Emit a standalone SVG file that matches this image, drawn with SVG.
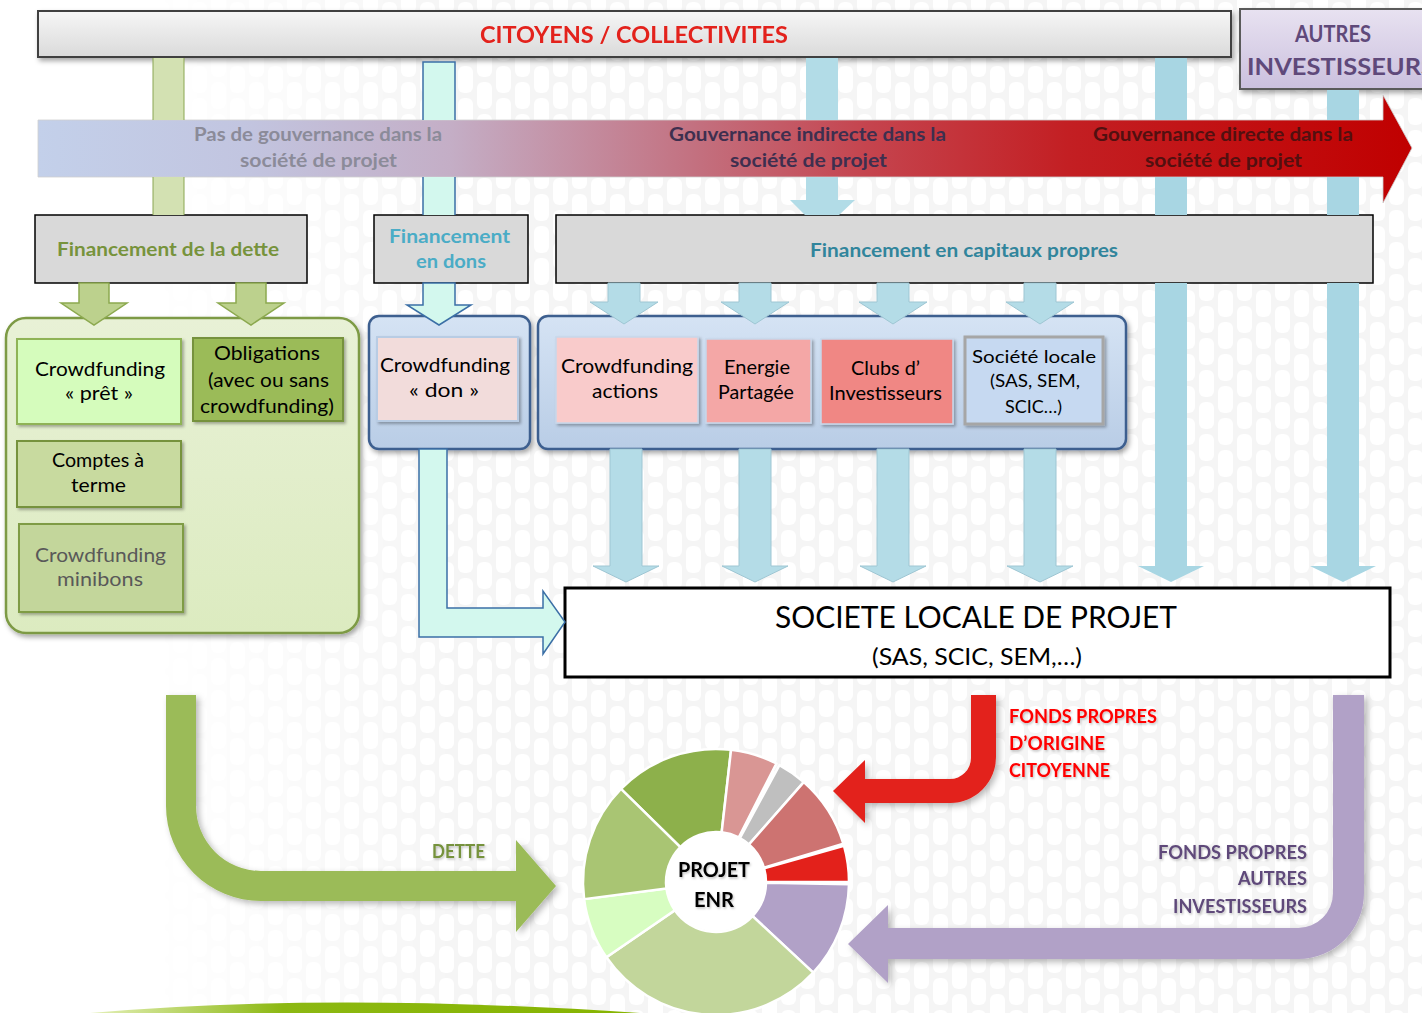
<svg xmlns="http://www.w3.org/2000/svg" width="1422" height="1013" viewBox="0 0 1422 1013">
<defs>
<style>
.t{font-family:Lato,'Open Sans','Liberation Sans',sans-serif}
.b{font-weight:700}
.s19{font-size:19px}
.s18{font-size:18px}
.in{font-size:19px;fill:#000}
.gbox{fill:#d9d9d9;stroke:#000;stroke-width:1.5}
.capA{fill:#b4dce7;stroke:#9ec6d3;stroke-width:1}
.grA{fill:#bcd18d;stroke:#8ca94f;stroke-width:1.5}
.cyA{fill:#d3f8ee;stroke:#3b6fa6;stroke-width:1.5}
.slice{stroke:#fff;stroke-width:2.5}
</style>
<filter id="sh" x="-10%" y="-10%" width="125%" height="130%"><feDropShadow dx="2" dy="3" stdDeviation="2.5" flood-color="#000" flood-opacity="0.35"/></filter>
<filter id="sh2" x="-10%" y="-10%" width="125%" height="130%"><feDropShadow dx="2" dy="2" stdDeviation="1.5" flood-color="#000" flood-opacity="0.3"/></filter>
<filter id="ash" x="-10%" y="-10%" width="125%" height="130%"><feDropShadow dx="3" dy="3" stdDeviation="3" flood-color="#000" flood-opacity="0.28"/></filter>
<filter id="ts" x="-5%" y="-20%" width="115%" height="150%"><feDropShadow dx="1" dy="1.5" stdDeviation="1" flood-color="#000" flood-opacity="0.25"/></filter>
<linearGradient id="barG" x1="0" y1="0" x2="0" y2="1"><stop offset="0" stop-color="#f6f6f6"/><stop offset="1" stop-color="#dadada"/></linearGradient>
<linearGradient id="autG" x1="0" y1="0" x2="0" y2="1"><stop offset="0" stop-color="#e8e2f1"/><stop offset="1" stop-color="#cbc0de"/></linearGradient>
<linearGradient id="bandG" gradientUnits="userSpaceOnUse" x1="38" y1="0" x2="1412" y2="0">
<stop offset="0" stop-color="#c3d0ea"/><stop offset="0.15" stop-color="#c2c5e0"/><stop offset="0.3" stop-color="#c4aec6"/><stop offset="0.48" stop-color="#c3707f"/><stop offset="0.6" stop-color="#c5454f"/><stop offset="0.75" stop-color="#c31f23"/><stop offset="1" stop-color="#c00000"/>
</linearGradient>
<linearGradient id="grnC" x1="0" y1="0" x2="0" y2="1"><stop offset="0" stop-color="#e8f1d6"/><stop offset="1" stop-color="#dcebc0"/></linearGradient>
<linearGradient id="bluC" x1="0" y1="0" x2="0" y2="1"><stop offset="0" stop-color="#d5e3f4"/><stop offset="1" stop-color="#b9cde6"/></linearGradient>
<linearGradient id="swG" gradientUnits="userSpaceOnUse" x1="90" y1="0" x2="640" y2="0"><stop offset="0" stop-color="#e4f0b8"/><stop offset="0.35" stop-color="#8cb812"/><stop offset="1" stop-color="#86b400"/></linearGradient>
<linearGradient id="fadeG" gradientUnits="userSpaceOnUse" x1="150" y1="0" x2="460" y2="0"><stop offset="0" stop-color="#fff" stop-opacity="0"/><stop offset="1" stop-color="#fff" stop-opacity="1"/></linearGradient>
<mask id="fadeM"><rect width="1422" height="1013" fill="url(#fadeG)"/></mask>
<pattern id="bgp" width="38" height="64" patternUnits="userSpaceOnUse">
<rect width="38" height="64" fill="#f5f5f5"/>
<rect x="2" y="2" width="15" height="27" rx="6" fill="#fff"/>
<rect x="2" y="34" width="15" height="27" rx="6" fill="#fff"/>
<rect x="21" y="18" width="15" height="27" rx="6" fill="#fff"/>
<rect x="21" y="-14" width="15" height="27" rx="6" fill="#fff"/>
<rect x="21" y="50" width="15" height="27" rx="6" fill="#fff"/>
</pattern>
</defs>

<rect width="1422" height="1013" fill="#fff"/>
<rect width="1422" height="1013" fill="url(#bgp)" mask="url(#fadeM)"/>
<path d="M90,1013 Q330,992 640,1013 Z" fill="url(#swG)"/>

<g id="citoyens" filter="url(#sh)">
<rect x="38" y="11" width="1193" height="46" fill="url(#barG)" stroke="#3f3f3f" stroke-width="2"/>
<text class="t b" x="480" y="43" font-size="23" fill="#e3211b" textLength="308" lengthAdjust="spacingAndGlyphs">CITOYENS / COLLECTIVITES</text>
</g>

<g id="autres-investisseurs">
<rect x="1240" y="9" width="200" height="80" fill="url(#autG)" stroke="#5a5a5a" stroke-width="2" filter="url(#sh)"/>
<text class="t b" x="1295" y="42" font-size="23" fill="#5f497a" textLength="76" lengthAdjust="spacingAndGlyphs">AUTRES</text>
<text class="t b" x="1247" y="75" font-size="23" fill="#5f497a" textLength="188" lengthAdjust="spacingAndGlyphs">INVESTISSEURS</text>
</g>

<g id="gouvernance">
<path d="M38,120 H1383 V95 L1412,148 L1383,203 V177 H38 Z" fill="url(#bandG)" stroke="#cfcfcf" stroke-width="0.8"/>
<text class="t b s19" x="194" y="141" fill="#8b8b99" textLength="248" lengthAdjust="spacingAndGlyphs">Pas de gouvernance dans la</text>
<text class="t b s19" x="240" y="167" fill="#8b8b99" textLength="157" lengthAdjust="spacingAndGlyphs">société de projet</text>
<text class="t b s19" x="669" y="141" fill="#3e2f4f" textLength="277" lengthAdjust="spacingAndGlyphs">Gouvernance indirecte dans la</text>
<text class="t b s19" x="730" y="167" fill="#3e2f4f" textLength="157" lengthAdjust="spacingAndGlyphs">société de projet</text>
<text class="t b s19" x="1093" y="141" fill="#521010" textLength="260" lengthAdjust="spacingAndGlyphs">Gouvernance directe dans la</text>
<text class="t b s19" x="1145" y="167" fill="#521010" textLength="157" lengthAdjust="spacingAndGlyphs">société de projet</text>
</g>

<g id="financement-dette">
<rect class="gbox" x="35" y="215" width="272" height="68"/>
<text class="t b s19" x="57" y="256" fill="#77933c" textLength="222" lengthAdjust="spacingAndGlyphs">Financement de la dette</text>
</g>
<g id="financement-dons">
<rect class="gbox" x="374" y="215" width="154" height="68"/>
<text class="t b s19" x="389" y="243" fill="#4bacc6" textLength="121" lengthAdjust="spacingAndGlyphs">Financement</text>
<text class="t b s19" x="416" y="268" fill="#4bacc6" textLength="70" lengthAdjust="spacingAndGlyphs">en dons</text>
</g>
<g id="financement-capitaux">
<rect class="gbox" x="556" y="215" width="817" height="68"/>
<text class="t b s19" x="810" y="257" fill="#31859c" textLength="308" lengthAdjust="spacingAndGlyphs">Financement en capitaux propres</text>
</g>

<g id="groupe-dette">
<rect x="6" y="318" width="353" height="315" rx="20" fill="url(#grnC)" stroke="#7d9a44" stroke-width="2.5" filter="url(#sh)"/>
</g>
<g id="crowdfunding-pret">
<rect x="17" y="339" width="164" height="85" fill="#d5fcbc" stroke="#8fb356" stroke-width="2" filter="url(#sh2)"/>
<text class="t in" x="35" y="376" textLength="130" lengthAdjust="spacingAndGlyphs">Crowdfunding</text>
<text class="t in" x="65" y="400" textLength="68" lengthAdjust="spacingAndGlyphs">« prêt »</text>
</g>
<g id="obligations">
<rect x="193" y="338" width="150" height="83" fill="#9bbb59" stroke="#76923c" stroke-width="2" filter="url(#sh2)"/>
<text class="t in" x="214" y="360" textLength="106" lengthAdjust="spacingAndGlyphs">Obligations</text>
<text class="t in" x="208" y="387" textLength="121" lengthAdjust="spacingAndGlyphs">(avec ou sans</text>
<text class="t in" x="200" y="413" textLength="134" lengthAdjust="spacingAndGlyphs">crowdfunding)</text>
</g>
<g id="comptes-terme">
<rect x="17" y="441" width="164" height="66" fill="#c8da9f" stroke="#76923c" stroke-width="2" filter="url(#sh2)"/>
<text class="t in" x="52" y="467" textLength="92" lengthAdjust="spacingAndGlyphs">Comptes à</text>
<text class="t in" x="71" y="492" textLength="55" lengthAdjust="spacingAndGlyphs">terme</text>
</g>
<g id="crowdfunding-minibons">
<rect x="19" y="524" width="164" height="88" fill="#c3d69b" stroke="#7f9c45" stroke-width="2" filter="url(#sh2)"/>
<text class="t s19" x="35" y="562" fill="#595959" textLength="131" lengthAdjust="spacingAndGlyphs">Crowdfunding</text>
<text class="t s19" x="57" y="586" fill="#595959" textLength="86" lengthAdjust="spacingAndGlyphs">minibons</text>
</g>

<g id="groupe-dons">
<rect x="369" y="316" width="161" height="133" rx="10" fill="url(#bluC)" stroke="#3d5f8f" stroke-width="2.5" filter="url(#sh)"/>
</g>
<g id="crowdfunding-don">
<rect x="377" y="337" width="141" height="84" fill="#f2dcdb" stroke="#b8cce4" stroke-width="2" filter="url(#sh2)"/>
<text class="t in" x="380" y="372" textLength="130" lengthAdjust="spacingAndGlyphs">Crowdfunding</text>
<text class="t in" x="409" y="397" textLength="70" lengthAdjust="spacingAndGlyphs">« don »</text>
</g>

<g id="groupe-capitaux">
<rect x="538" y="316" width="588" height="133" rx="10" fill="url(#bluC)" stroke="#3d5f8f" stroke-width="2.5" filter="url(#sh)"/>
</g>
<g id="crowdfunding-actions">
<rect x="556" y="337" width="142" height="86" fill="#f9cbcb" stroke="#c8d7ea" stroke-width="1.5" filter="url(#sh2)"/>
<text class="t in" x="561" y="373" textLength="132" lengthAdjust="spacingAndGlyphs">Crowdfunding</text>
<text class="t in" x="592" y="398" textLength="66" lengthAdjust="spacingAndGlyphs">actions</text>
</g>
<g id="energie-partagee">
<rect x="706" y="339" width="105" height="84" fill="#f4a7a6" stroke="#c8d7ea" stroke-width="1.5" filter="url(#sh2)"/>
<text class="t in" x="724" y="374" textLength="66" lengthAdjust="spacingAndGlyphs">Energie</text>
<text class="t in" x="718" y="399" textLength="76" lengthAdjust="spacingAndGlyphs">Partagée</text>
</g>
<g id="clubs-investisseurs">
<rect x="821" y="339" width="132" height="85" fill="#f08784" stroke="#c8d7ea" stroke-width="1.5" filter="url(#sh2)"/>
<text class="t in" x="851" y="375" textLength="69" lengthAdjust="spacingAndGlyphs">Clubs d’</text>
<text class="t in" x="829" y="400" textLength="113" lengthAdjust="spacingAndGlyphs">Investisseurs</text>
</g>
<g id="societe-locale">
<rect x="965" y="337" width="138" height="87" fill="#c6d9f1" stroke="#a6a6a6" stroke-width="3" filter="url(#sh2)"/>
<text class="t s18" x="972" y="363" fill="#000" textLength="124" lengthAdjust="spacingAndGlyphs">Société locale</text>
<text class="t s18" x="990" y="387" fill="#000" textLength="90" lengthAdjust="spacingAndGlyphs">(SAS, SEM,</text>
<text class="t s18" x="1005" y="413" fill="#000" textLength="57" lengthAdjust="spacingAndGlyphs">SCIC…)</text>
</g>

<g id="societe-projet">
<rect x="565" y="588" width="825" height="89" fill="#fff" stroke="#000" stroke-width="3"/>
<text class="t" x="775" y="628" font-size="31" fill="#000" textLength="402" lengthAdjust="spacingAndGlyphs">SOCIETE LOCALE DE PROJET</text>
<text class="t" x="872" y="665" font-size="23" fill="#000" textLength="210" lengthAdjust="spacingAndGlyphs">(SAS, SCIC, SEM,…)</text>
</g>

<g id="projet-enr">
<path class="slice" fill="#8db04b" d="M620.97,788.94 A133,133 0 0 1 731.06,749.85 L721.66,832.32 A50,50 0 0 0 680.28,847.02 Z"/>
<path class="slice" fill="#d99694" d="M731.06,749.85 A133,133 0 0 1 776.38,763.5 L738.7,837.45 A50,50 0 0 0 721.66,832.32 Z"/>
<path class="slice" fill="#bfbfbf" d="M779.47,765.12 A133,133 0 0 1 803.78,782.08 L749,844.44 A50,50 0 0 0 739.86,838.06 Z"/>
<path class="slice" fill="#cd7371" d="M803.78,782.08 A133,133 0 0 1 843.39,843.78 L763.89,867.63 A50,50 0 0 0 749,844.44 Z"/>
<path class="slice" fill="#e3211b" d="M843.97,845.78 A133,133 0 0 1 849,882 L766,882 A50,50 0 0 0 764.11,868.39 Z"/>
<path class="slice" fill="#b1a1c7" d="M848.98,884.32 A133,133 0 0 1 813.27,972.71 L752.57,916.1 A50,50 0 0 0 765.99,882.87 Z"/>
<path class="slice" fill="#c2d69b" d="M813.27,972.71 A133,133 0 0 1 606.39,957.33 L674.8,910.32 A50,50 0 0 0 752.57,916.1 Z"/>
<path class="slice" fill="#d7fdc1" d="M606.39,957.33 A133,133 0 0 1 584.1,899.13 L666.42,888.44 A50,50 0 0 0 674.8,910.32 Z"/>
<path class="slice" fill="#a9c573" d="M584.1,899.13 A133,133 0 0 1 620.97,788.94 L680.28,847.02 A50,50 0 0 0 666.42,888.44 Z"/>
<circle cx="716" cy="882" r="49" fill="#fff"/>
<text class="t b" x="678" y="877" font-size="20" fill="#000" filter="url(#ts)" textLength="72" lengthAdjust="spacingAndGlyphs">PROJET</text>
<text class="t b" x="694" y="907" font-size="20" fill="#000" filter="url(#ts)" textLength="40" lengthAdjust="spacingAndGlyphs">ENR</text>
</g>

<g id="connectors">
<rect x="153" y="58" width="31" height="62" fill="#d3e1b2"/>
<rect x="153" y="177" width="31" height="38" fill="#d3e1b2"/>
<path d="M153,58 V120 M184,58 V120 M153,177 V215 M184,177 V215" stroke="#8aa653" stroke-width="1" fill="none"/>
<rect x="423" y="62" width="32" height="58" fill="#d3f8ee"/>
<rect x="423" y="177" width="32" height="38" fill="#d3f8ee"/>
<path d="M423,120 V62 H455 V120 M423,177 V215 M455,177 V215" stroke="#3b6fa6" stroke-width="1.5" fill="none"/>
<rect x="806" y="58" width="32" height="62" fill="#b2dce7"/>
<path d="M806,177 V200 H790 L805,215 H839 L855,200 H838 V177 Z" fill="#b2dce7"/>
<rect x="1155" y="58" width="32" height="62" fill="#a8d6e3"/>
<rect x="1155" y="177" width="32" height="38" fill="#a8d6e3"/>
<path d="M1155,283 V566 H1138 L1171,582 L1204,566 H1187 V283 Z" fill="#a8d6e3"/>
<rect x="1327" y="90" width="32" height="30" fill="#a8d6e3"/>
<rect x="1327" y="177" width="32" height="38" fill="#a8d6e3"/>
<path d="M1327,283 V566 H1310 L1343,582 L1376,566 H1359 V283 Z" fill="#a8d6e3"/>
<path class="grA" d="M79,283 V303 H61 L94,325 L127,303 H109 V283 Z"/>
<path class="grA" d="M236,283 V303 H218 L251,325 L284,303 H266 V283 Z"/>
<path class="cyA" d="M423,283 V305 H407 L439,325 L471,305 H455 V283 Z"/>
<path class="capA" d="M608,283 V302 H590 L624,324 L658,302 H640 V283 Z"/>
<path class="capA" d="M739,283 V302 H721 L755,324 L789,302 H771 V283 Z"/>
<path class="capA" d="M877,283 V302 H859 L893,324 L927,302 H909 V283 Z"/>
<path class="capA" d="M1024,283 V302 H1006 L1040,324 L1074,302 H1056 V283 Z"/>
<path class="capA" d="M610,449 V566 H593 L626,582 L659,566 H642 V449 Z"/>
<path class="capA" d="M739,449 V566 H722 L755,582 L788,566 H771 V449 Z"/>
<path class="capA" d="M877,449 V566 H860 L893,582 L926,566 H909 V449 Z"/>
<path class="capA" d="M1024,449 V566 H1007 L1040,582 L1073,566 H1056 V449 Z"/>
<path class="cyA" d="M419,449 H447 V608 H543 V591 L565,622 L543,654 V637 H419 Z"/>
<path d="M166,695 H196 V806 A65,65 0 0 0 261,871 H516 V840 L556,886 L516,932 V901 H261 A95,95 0 0 1 166,806 Z" fill="#9bbb59" filter="url(#ash)"/>
<path d="M971,695 H996 V757 A46,46 0 0 1 950,803 H865 V823 L833,791 L865,760 V779 H950 A21,21 0 0 0 971,758 Z" fill="#e3211b" filter="url(#ash)"/>
<path d="M1333,695 H1364 V893 A66,66 0 0 1 1298,959 H888 V983 L848,944 L888,905 V928 H1298 A35,35 0 0 0 1333,893 Z" fill="#b1a1c7" filter="url(#ash)"/>
<text class="t b s18" x="432" y="858" fill="#76923c" filter="url(#ts)" textLength="53" lengthAdjust="spacingAndGlyphs">DETTE</text>
<text class="t b s18" x="1009" y="723" fill="#ff0000" filter="url(#ts)" textLength="148" lengthAdjust="spacingAndGlyphs">FONDS PROPRES</text>
<text class="t b s18" x="1009" y="750" fill="#ff0000" filter="url(#ts)" textLength="96" lengthAdjust="spacingAndGlyphs">D’ORIGINE</text>
<text class="t b s18" x="1009" y="777" fill="#ff0000" filter="url(#ts)" textLength="101" lengthAdjust="spacingAndGlyphs">CITOYENNE</text>
<text class="t b s18" x="1158" y="859" fill="#5f497a" filter="url(#ts)" textLength="149" lengthAdjust="spacingAndGlyphs">FONDS PROPRES</text>
<text class="t b s18" x="1238" y="885" fill="#5f497a" filter="url(#ts)" textLength="69" lengthAdjust="spacingAndGlyphs">AUTRES</text>
<text class="t b s18" x="1173" y="913" fill="#5f497a" filter="url(#ts)" textLength="134" lengthAdjust="spacingAndGlyphs">INVESTISSEURS</text>
</g>
</svg>
